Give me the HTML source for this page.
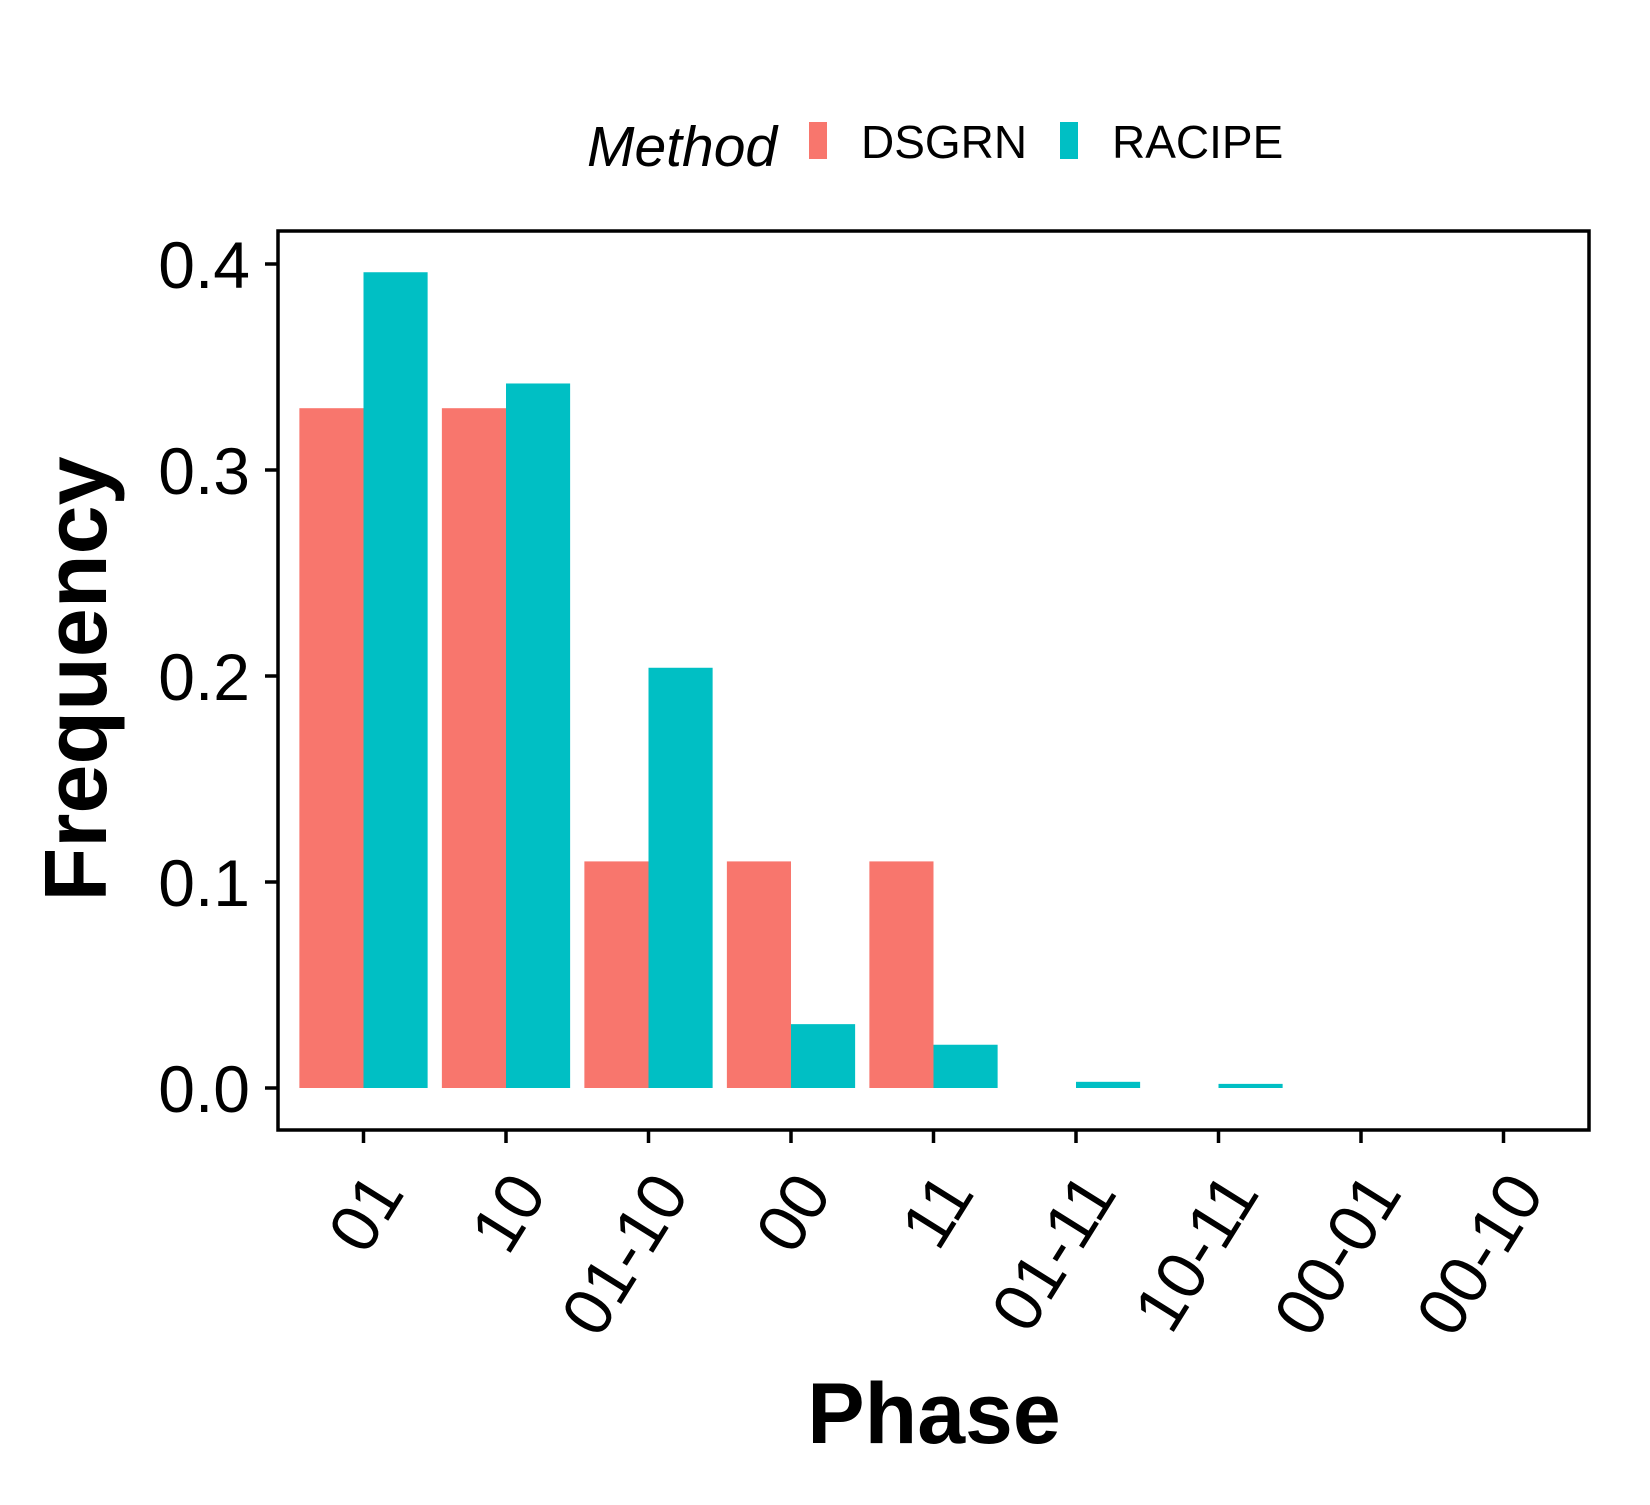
<!DOCTYPE html>
<html><head><meta charset="utf-8"><style>
body{margin:0;background:#fff;}
svg text{font-family:"Liberation Sans",Arial,sans-serif;fill:#000;}
</style></head><body>
<svg id="chart" width="1650" height="1500" viewBox="0 0 1650 1500">
<rect width="1650" height="1500" fill="#fff"/>
<g id="bars"></g>
<rect x="278" y="231" width="1311" height="899" fill="none" stroke="#000" stroke-width="3.5"/>
<g id="axes"></g>
<text x="75" y="679" font-size="88" font-weight="bold" text-anchor="middle" transform="rotate(-90 75 679)" dy="31">Frequency</text>
<text x="934" y="1443" font-size="86" font-weight="bold" text-anchor="middle">Phase</text>
<g>
<text x="587" y="166" font-size="57" font-style="italic">Method</text>
<rect x="809" y="122" width="18" height="37" fill="#F8766D"/>
<text x="861" y="158" font-size="46">DSGRN</text>
<rect x="1060" y="122" width="18" height="37" fill="#00BFC4"/>
<text x="1112" y="158" font-size="46">RACIPE</text>
</g>
</svg>
<script>
const categories = ["01","10","01-10","00","11","01-11","10-11","00-01","00-10"];
const dsgrn = [0.33,0.33,0.11,0.11,0.11,0,0,0,0];
const racipe = [0.396,0.342,0.204,0.031,0.021,0.003,0.002,0,0];
const yTicks = [0,0.1,0.2,0.3,0.4];
const yTickLabels = ["0.0","0.1","0.2","0.3","0.4"];
const NS="http://www.w3.org/2000/svg";
const left=278,right=1589,y0=1088,perUnit=2060;
const band=(right-left)/(categories.length+0.2);
const xScale=i=>left+band*(0.6+i);
const yScale=v=>y0-v*perUnit;
const bars=document.getElementById('bars'), axes=document.getElementById('axes');
const bw=band*0.45;
function mk(tag,attrs,parent){const e=document.createElementNS(NS,tag);for(const k in attrs)e.setAttribute(k,attrs[k]);parent.appendChild(e);return e;}
categories.forEach((c,i)=>{
  const cx=xScale(i);
  [[dsgrn,'#F8766D',cx-bw,'dsgrn'],[racipe,'#00BFC4',cx,'racipe']].forEach(([arr,col,x,n])=>{
    const v=arr[i]; if(v<=0) return;
    const r=mk('rect',{x:x,y:yScale(v),width:bw,height:Math.max(y0-yScale(v),1),fill:col},bars);
    
    
  });
  const t=mk('line',{x1:cx,x2:cx,y1:1130,y2:1143,stroke:'#000','stroke-width':3.5},axes);
  
  
  const ax=cx+42, ay=1193;
  const l=mk('text',{x:ax,y:ay,'font-size':68,'text-anchor':'end',transform:`rotate(-58 ${ax} ${ay})`},axes);
  l.textContent=c;
  
  
});
yTicks.forEach((v,i)=>{
  const y=yScale(v);
  const t=mk('line',{x1:265,x2:278,y1:y,y2:y,stroke:'#000','stroke-width':3.5},axes);
  
  
  const l=mk('text',{x:250,y:y+24,'font-size':66,'text-anchor':'end'},axes);
  l.textContent=yTickLabels[i];
  
  
});
</script>
</body></html>
